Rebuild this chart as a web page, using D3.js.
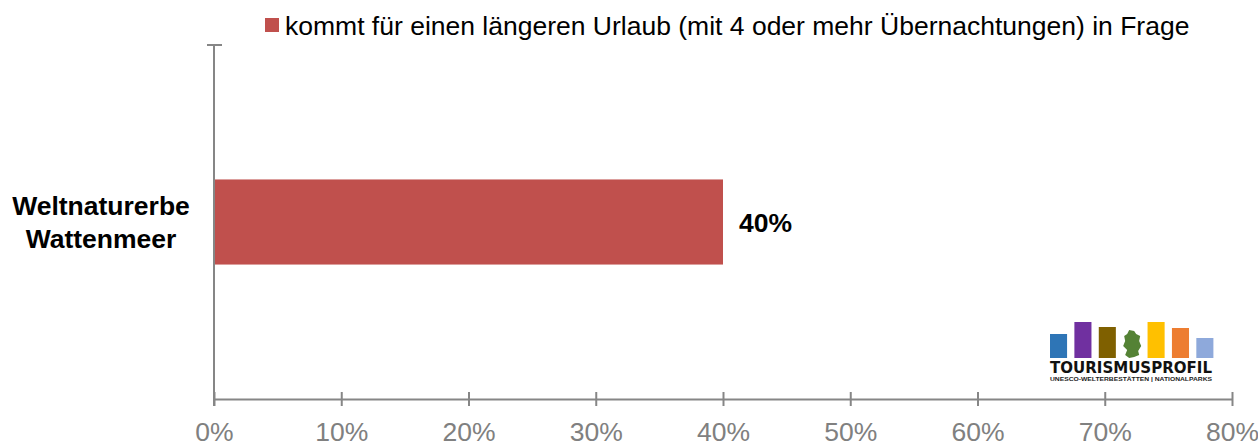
<!DOCTYPE html>
<html>
<head>
<meta charset="utf-8">
<script src="https://cdn.jsdelivr.net/npm/d3@7"></script>
<style>
  body { margin: 0; background: #fff; }
  svg { font-family: "Liberation Sans", Arial, sans-serif; }
</style>
</head>
<body>
<svg id="chart"></svg>
<script>
// chart data
const categories = ["Weltnaturerbe Wattenmeer"];
const values = [0.40];
const seriesName = "kommt für einen längeren Urlaub (mit 4 oder mehr Übernachtungen) in Frage";
const xTicks = [0, 0.1, 0.2, 0.3, 0.4, 0.5, 0.6, 0.7, 0.8];
// logo bars (relative heights), index 3 is the map of germany
const logoColors = ["#2E75B6", "#7030A0", "#7F6000", "#548235", "#FFC000", "#ED7D31", "#8EA9DB"];
const logoHeights = [24, 36, 31, 28, 36, 30, 20];

const width = 1258, height = 444;
const margin = {top: 45, right: 26, bottom: 45, left: 214};
const fontSize = 26.5;

const svg = d3.select("#chart")
    .attr("width", width)
    .attr("height", height);

const x = d3.scaleLinear()
    .domain([0, 0.8])
    .range([margin.left, width - margin.right]);

const y = d3.scaleBand()
    .domain(categories)
    .range([margin.top, height - margin.bottom])
    .paddingInner(0)
    .paddingOuter(1.58);

// bars
svg.append("g")
  .selectAll("rect")
  .data(values)
  .join("rect")
    .attr("x", x(0))
    .attr("y", (d, i) => y(categories[i]))
    .attr("width", d => x(d) - x(0))
    .attr("height", y.bandwidth())
    .attr("fill", "#C0504D");

// value labels
svg.append("g")
  .selectAll("text")
  .data(values)
  .join("text")
    .attr("x", d => x(d) + 16)
    .attr("y", (d, i) => y(categories[i]) + y.bandwidth() / 2)
    .attr("dy", "0.36em")
    .attr("font-size", fontSize)
    .attr("font-weight", "bold")
    .attr("fill", "#000")
    .text(d => d3.format(".0%")(d));

// x axis
const xAxis = svg.append("g")
    .attr("transform", `translate(0,${height - margin.bottom})`)
    .call(d3.axisBottom(x).tickValues(xTicks).tickFormat(d3.format(".0%")).tickSize(7).tickPadding(16).tickSizeOuter(0));
xAxis.select(".domain").attr("stroke", "#868686").attr("stroke-width", 2);
xAxis.selectAll(".tick line").attr("stroke", "#868686").attr("stroke-width", 2).attr("y1", -7);
xAxis.selectAll(".tick text").attr("font-size", fontSize).attr("fill", "#808080").attr("font-family", "Liberation Sans, Arial, sans-serif");

// y axis (cross tick at the top edge)
const yAxisG = svg.append("g");
yAxisG.append("line")
    .attr("x1", x(0)).attr("x2", x(0))
    .attr("y1", margin.top).attr("y2", height - margin.bottom + 7)
    .attr("stroke", "#868686").attr("stroke-width", 2);
yAxisG.append("line")
    .attr("x1", x(0) - 7).attr("x2", x(0) + 8)
    .attr("y1", margin.top).attr("y2", margin.top)
    .attr("stroke", "#868686").attr("stroke-width", 2);

// category labels
const catLabel = svg.append("g")
  .selectAll("text")
  .data(categories)
  .join("text")
    .attr("y", d => y(d) + y.bandwidth() / 2)
    .attr("text-anchor", "middle")
    .attr("font-size", fontSize)
    .attr("font-weight", "bold")
    .attr("fill", "#000");
catLabel.append("tspan").attr("x", 101).attr("dy", "-0.28em").text(d => d.split(" ")[0]);
catLabel.append("tspan").attr("x", 101).attr("dy", "1.25em").text(d => d.split(" ")[1]);

// legend
const legend = svg.append("g").attr("transform", "translate(265,18)");
legend.append("rect").attr("width", 14).attr("height", 14).attr("fill", "#C0504D");
legend.append("text")
    .attr("x", 20).attr("y", 7).attr("dy", "0.36em")
    .attr("font-size", fontSize).attr("fill", "#000")
    .text(seriesName);

// logo
const logo = svg.append("g").attr("transform", "translate(1050,358)");
const lx = d3.scaleBand().domain(d3.range(logoColors.length)).range([0, 163.4]).paddingInner(0.3);
logo.selectAll("rect")
  .data(logoHeights.map((h, i) => ({h, i})).filter(d => d.i !== 3))
  .join("rect")
    .attr("x", d => lx(d.i))
    .attr("y", d => -d.h)
    .attr("width", lx.bandwidth())
    .attr("height", d => d.h)
    .attr("fill", d => logoColors[d.i]);
// rough germany shape
logo.append("path")
    .attr("transform", `translate(${lx(3)},0)`)
    .attr("d", "M6,-28 L11,-27 L13,-24 L17,-22 L16,-17 L18,-12 L15,-7 L16,-3 L11,-1 L6,0 L2,-3 L4,-8 L0,-12 L2,-17 L1,-22 L4,-24 Z")
    .attr("fill", logoColors[3]);
logo.append("text")
    .attr("x", 81).attr("y", 15)
    .attr("text-anchor", "middle")
    .attr("font-size", 15.5).attr("font-weight", "bold")
    .attr("font-family", "DejaVu Sans, sans-serif")
    .attr("textLength", 162).attr("lengthAdjust", "spacingAndGlyphs")
    .attr("fill", "#111")
    .text("TOURISMUSPROFIL");
logo.append("text")
    .attr("x", 81).attr("y", 23)
    .attr("text-anchor", "middle")
    .attr("font-size", 6).attr("font-weight", "bold")
    .attr("textLength", 162).attr("lengthAdjust", "spacingAndGlyphs")
    .attr("fill", "#222")
    .text("UNESCO-WELTERBESTÄTTEN | NATIONALPARKS");
</script>
</body>
</html>
